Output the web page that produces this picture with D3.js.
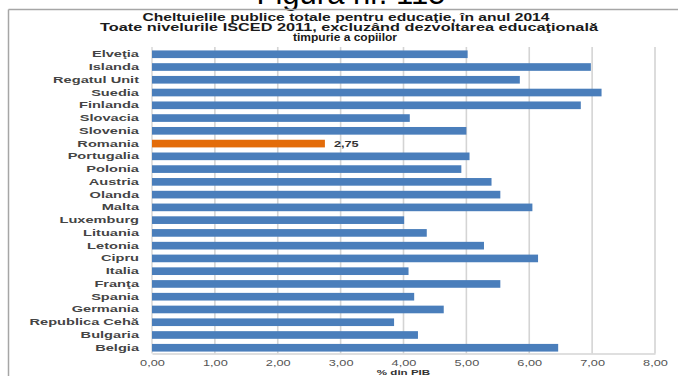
<!DOCTYPE html>
<html><head><meta charset="utf-8">
<script src="https://cdn.jsdelivr.net/npm/d3@7"></script>
<style>html,body{margin:0;padding:0;background:#fff;}svg{display:block;}</style>
</head><body>
<script>
const categories = ["Elveţia","Islanda","Regatul Unit","Suedia","Finlanda","Slovacia","Slovenia","Romania","Portugalia","Polonia","Austria","Olanda","Malta","Luxemburg","Lituania","Letonia","Cipru","Italia","Franţa","Spania","Germania","Republica Cehă","Bulgaria","Belgia"];
const values = [5.02,6.98,5.85,7.15,6.82,4.10,5.00,2.75,5.05,4.92,5.40,5.54,6.05,4.01,4.37,5.28,6.14,4.08,5.54,4.17,4.64,3.85,4.23,6.46];
const highlight = "Romania";
const highlightLabel = "2,75";
const xTicks = [0,1,2,3,4,5,6,7,8];
const figureTitle = "Figura nr. 115";
const titleLines = ["Cheltuielile publice totale pentru educaţie, în anul 2014","Toate nivelurile ISCED 2011, excluzând dezvoltarea educaţională","timpurie a copiilor"];
const xAxisTitle = "% din PIB";

const W = 678, H = 376;
const svg = d3.select("body").append("svg").attr("width", W).attr("height", H)
  .style("font-family", "Arial, 'Liberation Sans', sans-serif");

// figure title (clipped at top)
svg.append("text").attr("x", 351).attr("y", 4).attr("text-anchor", "middle")
  .attr("font-size", 31).attr("fill", "#000").text(figureTitle);

// frame
svg.append("line").attr("x1", 8.5).attr("x2", 678).attr("y1", 9.5).attr("y2", 9.5).attr("stroke", "#a6a6a6").attr("stroke-width", 1.5);
svg.append("line").attr("x1", 8.5).attr("x2", 8.5).attr("y1", 9.5).attr("y2", 376).attr("stroke", "#a6a6a6").attr("stroke-width", 1.5);

// chart titles
const tSpecs = [{y: 20.5, x: 346, w: 407}, {y: 31, x: 349, w: 498}, {y: 41, x: 345, w: 104}];
titleLines.forEach((t, i) => {
  svg.append("text").attr("x", tSpecs[i].x).attr("y", tSpecs[i].y).attr("text-anchor", "middle")
    .attr("font-size", 10).attr("font-weight", "bold").attr("fill", "#1a1a1a")
    .attr("textLength", tSpecs[i].w).attr("lengthAdjust", "spacingAndGlyphs").text(t);
});

const x = d3.scaleLinear().domain([0, 8]).range([152, 655]);
const y = d3.scaleBand().domain(categories).range([48, 354]).paddingInner(0.4).paddingOuter(0.19);
const gridTop = 47, gridBottom = 353.5;

// gridlines
svg.append("g").selectAll("line").data(xTicks.slice(1)).join("line")
  .attr("x1", d => x(d)).attr("x2", d => x(d)).attr("y1", gridTop).attr("y2", gridBottom)
  .attr("stroke", "#d4d4d4").attr("stroke-width", 1.6);

// bottom axis
const xAxis = d3.axisBottom(x).tickValues(xTicks).tickSize(0).tickPadding(0)
  .tickFormat(d => d3.format(".2f")(d).replace(".", ","));
const gx = svg.append("g").attr("transform", `translate(0,${gridBottom})`).call(xAxis);
gx.select(".domain").attr("stroke", "#d4d4d4").attr("stroke-width", 1.4);
gx.selectAll(".tick text").attr("font-size", 8.5).attr("fill", "#555")
  .attr("y", 0).attr("dy", 0)
  .attr("transform", "translate(0,12.3) scale(1.5,1)");

// y axis labels
const yAxis = d3.axisLeft(y).tickSize(0).tickPadding(0);
const gy = svg.append("g").attr("transform", "translate(139,0)").call(yAxis);
gy.select(".domain").remove();
gy.selectAll(".tick text").attr("font-size", 8.5).attr("font-weight", "bold").attr("fill", "#444")
  .attr("x", 0).attr("dy", 0).attr("transform", "translate(0,3) scale(1.72,1)");

// left axis line at 0
svg.append("line").attr("x1", x(0)).attr("x2", x(0)).attr("y1", gridTop).attr("y2", gridBottom)
  .attr("stroke", "#d4d4d4").attr("stroke-width", 1.4);

// bars
svg.append("g").selectAll("rect").data(categories).join("rect")
  .attr("x", x(0)).attr("y", d => y(d))
  .attr("width", (d, i) => x(values[i]) - x(0)).attr("height", y.bandwidth())
  .attr("fill", d => d === highlight ? "#e36c0a" : "#4a7ebb");

// highlight label
const hi = categories.indexOf(highlight);
svg.append("text").attr("transform", `translate(${x(values[hi]) + 9},${y(highlight) + y.bandwidth() / 2 + 3}) scale(1.5,1)`)
  .attr("font-size", 8.5).attr("font-weight", "bold").attr("fill", "#333").text(highlightLabel);

// x axis title
svg.append("text").attr("transform", `translate(${x(4)},374.5) scale(1.45,1)`).attr("text-anchor", "middle")
  .attr("font-size", 8).attr("font-weight", "bold").attr("fill", "#333").text(xAxisTitle);
</script>
</body></html>
